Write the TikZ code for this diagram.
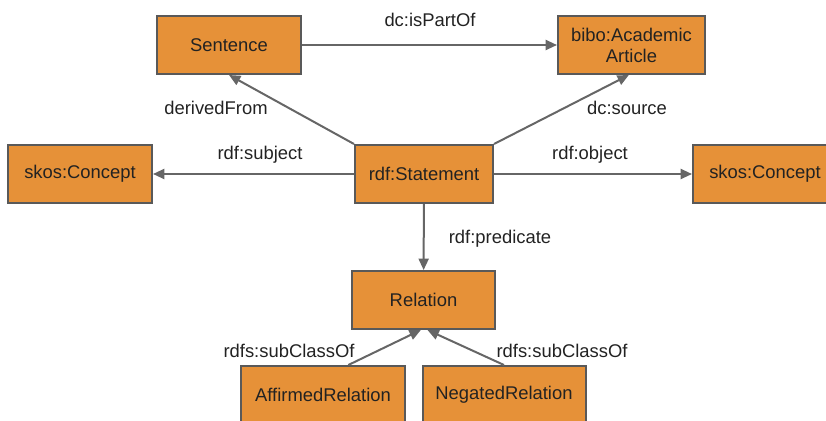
\documentclass[tikz,border=0pt]{standalone}
\usepackage{fontspec}
\setmainfont{Liberation Sans}
\usetikzlibrary{arrows.meta}

\definecolor{clsfill}{RGB}{230,145,56}
\definecolor{clsline}{RGB}{89,89,89}
\definecolor{relline}{RGB}{102,102,102}
\definecolor{txt}{RGB}{34,34,34}

\tikzset{every picture/.style={line width=0.75pt}}
\tikzset{
  cls/.style={draw=clsline,fill=clsfill,line width=1.5pt,inner sep=0pt,
    minimum height=43.5pt,align=center,text=txt,font=\fontsize{13.8}{15.8}\selectfont},
  rel/.style={draw=relline,line width=1.5pt,-{Triangle[length=8.5pt,width=7.5pt]}},
  lbl/.style={text=txt,inner sep=0pt,font=\fontsize{13.8}{15.8}\selectfont}
}

\begin{document}
\begin{tikzpicture}[x=0.75pt,y=0.75pt,yscale=-1,xscale=1]
	\useasboundingbox (0,0) rectangle (826,421);
	\clip (0,0) rectangle (826,421);
	
	%Shape: Rectangle
	\node [cls,minimum width=108pt] (sentence) at (229,45) {Sentence};
	%Shape: Rectangle
	\node [cls,minimum width=110.25pt] (article) at (631.5,45) {bibo:Academic\\Article};
	%Shape: Rectangle
	\node [cls,minimum width=108pt] (subj) at (80,174) {skos:Concept};
	%Shape: Rectangle
	\node [cls,minimum width=103.5pt] (stmt) at (424,174) {rdf:Statement};
	%Shape: Rectangle
	\node [cls,minimum width=108pt] (obj) at (765,174) {skos:Concept};
	%Shape: Rectangle
	\node [cls,minimum width=107.25pt] (relation) at (423.5,300) {Relation};
	%Shape: Rectangle
	\node [cls,minimum width=123pt] (affirmed) at (323,395) {AffirmedRelation};
	%Shape: Rectangle
	\node [cls,minimum width=122.25pt] (negated) at (504,395) {NegatedRelation};
	
	%Straight Lines
	\draw [rel] (sentence) -- (article);
	%Straight Lines
	\draw [rel] (stmt.north west) -- (sentence.south);
	%Straight Lines
	\draw [rel] (stmt.north east) -- ([xshift=-2pt]article.south);
	%Straight Lines
	\draw [rel] (stmt) -- (subj);
	%Straight Lines
	\draw [rel] (stmt) -- (obj);
	%Straight Lines
	\draw [rel] (stmt) -- (relation);
	%Straight Lines
	\draw [rel] ([xshift=19pt]affirmed.north) -- ([xshift=-2pt]relation.south);
	%Straight Lines
	\draw [rel] (negated.north) -- ([xshift=3pt]relation.south);
	
	% Text Nodes
	\node [lbl] (ispartof) at (430,20) {dc:isPartOf};
	\node [lbl] (derived) at (216,108) {derivedFrom};
	\node [lbl] (source) at (627,108) {dc:source};
	\node [lbl] (subjlbl) at (260,155) {rdf:subject};
	\node [lbl] (objlbl) at (590,155) {rdf:object};
	\node [lbl] (predlbl) at (500,239) {rdf:predicate};
	\node [lbl] (subclassl) at (289,351) {rdfs:subClassOf};
	\node [lbl] (subclassr) at (562,351) {rdfs:subClassOf};
	
\end{tikzpicture}
\end{document}
